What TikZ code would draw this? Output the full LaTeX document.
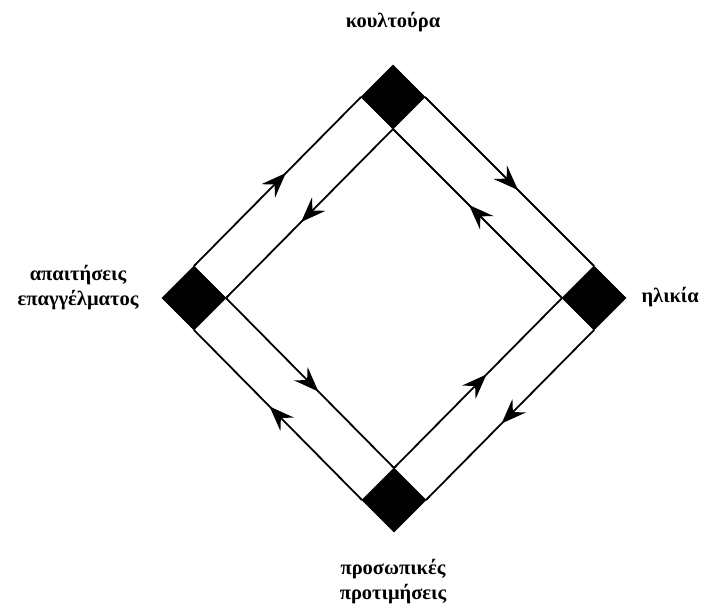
\documentclass[tikz,border=0pt]{standalone}
\usepackage{fontspec}
\setmainfont{Liberation Serif}
\usepackage{tikz}
\usetikzlibrary{shapes.geometric}
\usetikzlibrary{decorations.markings}
\usetikzlibrary{arrows.meta}
\tikzset{>={Stealth[width=19pt,length=25pt,inset=9pt]}}

\begin{document}
\begin{tikzpicture}[
    x = 1pt, y = -1pt,
    corner/.style = {diamond, fill=black, draw=black, inner sep=0pt,
        minimum size=64pt, outer sep=0pt},
    label/.style = {font=\fontsize{20.5}{25}\selectfont\bfseries, align=center},
    flow/.style = {line width=1.8pt, postaction={decorate},
        decoration={markings, mark=at position 0.55 with {\arrow{>}}}}
  ]
  \useasboundingbox (0,0) rectangle (703,603);

  % the four corners of the diamond
  \node[corner] (KUL) at (393,97)  {};
  \node[corner] (ILI) at (594,298) {};
  \node[corner] (PRO) at (394,500) {};
  \node[corner] (APA) at (194,298) {};

  \node[label] (KULT) at (393,22) {κουλτούρα};
  \node[label, anchor=west] (ILIT) at (638,297) {ηλικία};
  \node[label] (APAT) at (78,288) {απαιτήσεις\\επαγγέλματος};
  \node[label] (PROT) at (393,582) {προσωπικές\\προτιμήσεις};

  % outer ring
  \draw[flow] (APA.north) -- (KUL.west);
  \draw[flow] (KUL.east) -- (ILI.north);
  \draw[flow] (ILI.south) -- (PRO.east);
  \draw[flow] (PRO.west) -- (APA.south);

  % inner ring
  \draw[flow] (KUL.south) -- (APA.east);
  \draw[flow] (APA.east) -- (PRO.north);
  \draw[flow] (PRO.north) -- (ILI.west);
  \draw[flow] (ILI.west) -- (KUL.south);
\end{tikzpicture}
\end{document}
